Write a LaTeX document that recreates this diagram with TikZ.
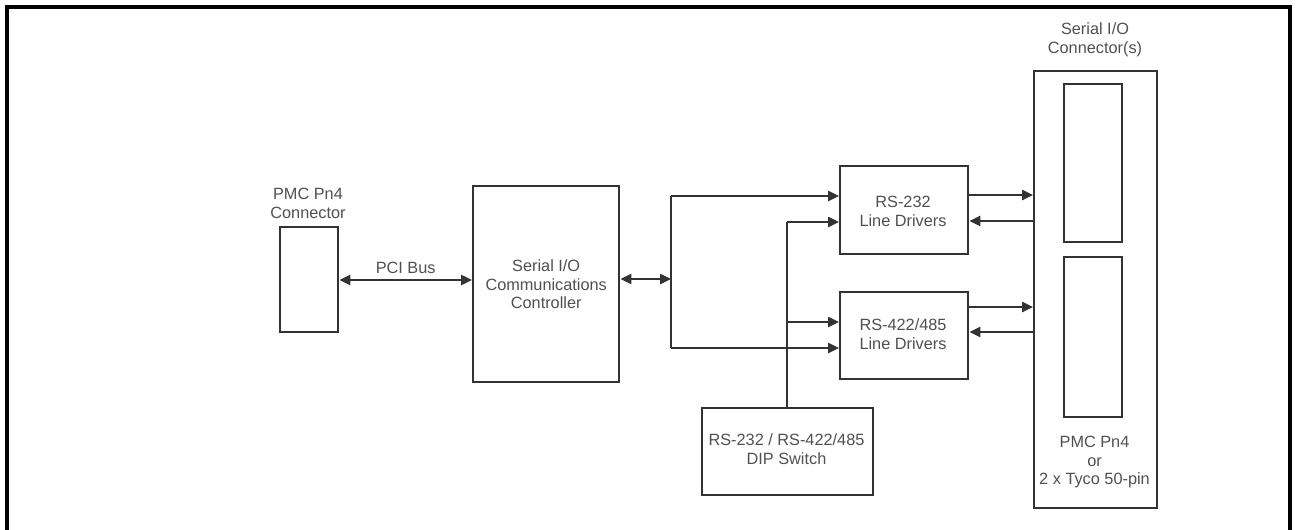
\documentclass[tikz,border=0pt]{standalone}
\usepackage{fontspec}
\setmainfont{Liberation Sans}
\usetikzlibrary{arrows.meta}
\definecolor{ln}{HTML}{333333}
\definecolor{tx}{HTML}{505050}
\begin{document}
\begin{tikzpicture}[x=1pt,y=-1pt,
  blk/.style={draw=ln,line width=2.4pt,fill=none},
  lbl/.style={text=tx,font=\fontsize{16.3}{18.8}\selectfont,align=center,inner sep=0},
  conn/.style={draw=ln,line width=2.4pt},
  arr/.style={conn,-{Triangle[length=11pt,width=10pt]}},
  darr/.style={conn,{Triangle[length=11pt,width=10pt]}-{Triangle[length=11pt,width=10pt]}}]
\useasboundingbox (0,0) rectangle (1299,530);
% outer frame
\draw[line width=3.5pt,black] (7,533) -- (7,7) -- (1290,7) -- (1290,533);
% PMC connector
\node[blk,minimum width=58pt,minimum height=105pt,anchor=north west] (pmc) at (279,226) {};
\node[lbl] (pmcl) at (308,203) {PMC Pn4\\Connector};
% controller
\node[blk,minimum width=146pt,minimum height=196pt,anchor=north west] (ctl) at (472,185) {};
\node[lbl] (ctll) at (ctl.center) {Serial I/O\\Communications\\Controller};
% RS-232
\node[blk,minimum width=128pt,minimum height=88pt,anchor=north west] (r232) at (839,165) {};
\node[lbl] (r232l) at (903,211) {RS-232\\Line Drivers};
% RS-422
\node[blk,minimum width=128pt,minimum height=87pt,anchor=north west] (r422) at (839,291) {};
\node[lbl] (r422l) at (903,334) {RS-422/485\\Line Drivers};
% DIP
\node[blk,minimum width=171pt,minimum height=87pt,anchor=north west] (dip) at (701,407) {};
\node[lbl] (dipl) at (786.5,449) {RS-232 / RS-422/485\\DIP Switch};
% serial connectors
\node[blk,minimum width=123pt,minimum height=437pt,anchor=north west] (sio) at (1033,70) {};
\node[blk,minimum width=58pt,minimum height=158pt,anchor=north west] (c1) at (1063,83) {};
\node[blk,minimum width=58pt,minimum height=160pt,anchor=north west] (c2) at (1063,256) {};
\node[lbl] (siol) at (1095,40) {Serial I/O\\Connector(s)};
\node[lbl] (siob) at (1094.5,462) {PMC Pn4\\or\\2 x Tyco 50-pin};
% coordinates
\coordinate (j) at (671,279);
\coordinate (jt) at (671,196);
\coordinate (jb) at (671,348);
\coordinate (d) at (787,222);
\coordinate (dm) at (787,322);
% connectors
\draw[darr] (pmc.east |- 0,280) -- node[lbl,above=5pt] (pci) {PCI Bus} (ctl.west |- 0,280);
\draw[darr] (ctl.east |- j) -- (j);
\draw[conn] (jt) -- (jb);
\draw[arr] (jt) -- (r232.west |- jt);
\draw[arr] (jb) -- (r422.west |- jb);
\draw[conn] (dip.north -| d) -- (d);
\draw[arr] (d) -- (r232.west |- d);
\draw[arr] (dm) -- (r422.west |- dm);
\draw[arr] (r232.east |- 0,195) -- (sio.west |- 0,195);
\draw[arr] (sio.west |- 0,221) -- (r232.east |- 0,221);
\draw[arr] (r422.east |- 0,307) -- (sio.west |- 0,307);
\draw[arr] (sio.west |- 0,332) -- (r422.east |- 0,332);
\end{tikzpicture}
\end{document}
